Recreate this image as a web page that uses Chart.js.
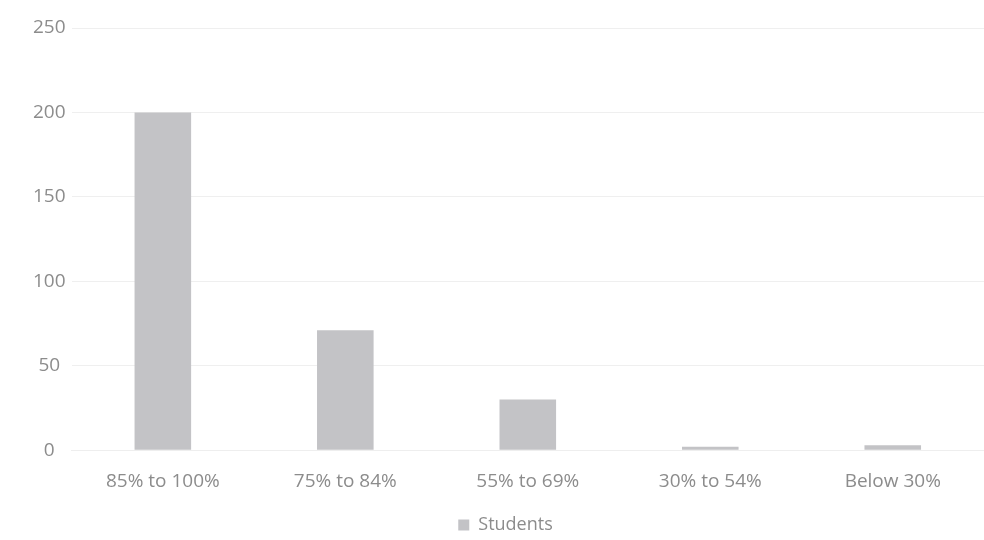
<!DOCTYPE html>
<html>
<head>
<meta charset="utf-8">
<script src="https://cdn.jsdelivr.net/npm/chart.js@4"></script>
<style>
  html, body { margin: 0; padding: 0; background: #fff; }
  #wrap { width: 984px; height: 540px; }
</style>
</head>
<body>
<div id="wrap"><canvas id="studentsChart"></canvas></div>
<script>
// datos del gráfico
const categories = ['85% to 100%', '75% to 84%', '55% to 69%', '30% to 54%', 'Below 30%'];
const students = [200, 71, 30, 2, 3];
const yTicks = [0, 50, 100, 150, 200, 250];

const textGray = '#8c8c8c';
const barGray = '#c3c3c6';

function createStudentsChart() {
    const ctx = document.getElementById('studentsChart');
    new Chart(ctx, {
        type: 'bar',
        data: {
            labels: categories,
            datasets: [{
                label: 'Students',
                data: students,
                backgroundColor: barGray,
                borderWidth: 0,
                categoryPercentage: 1,
                barPercentage: 0.31
            }]
        },
        options: {
            responsive: true,
            maintainAspectRatio: false,
            animation: false,
            // el padding inferior negativo baja un poco la leyenda
            layout: { padding: { top: 28, left: 27, right: 0, bottom: -4 } },
            plugins: {
                title: { display: false },
                tooltip: { enabled: false },
                legend: {
                    position: 'bottom',
                    labels: {
                        boxWidth: 11,
                        boxHeight: 11,
                        color: textGray,
                        padding: 11,
                        font: { family: 'Open Sans', size: 18 }
                    }
                }
            },
            scales: {
                x: {
                    grid: { display: false },
                    border: { color: '#eeeeee' },
                    ticks: {
                        color: textGray,
                        padding: 12,
                        maxRotation: 0,
                        font: { family: 'Open Sans', size: 19 }
                    }
                },
                y: {
                    min: 0,
                    max: 250,
                    afterBuildTicks: (axis) => {
                        axis.ticks = yTicks.map(v => ({ value: v }));
                    },
                    grid: { color: '#efefef', drawTicks: false },
                    border: { display: false },
                    ticks: {
                        color: textGray,
                        padding: 6,
                        crossAlign: 'center',
                        font: { family: 'Open Sans', size: 19 }
                    }
                }
            }
        }
    });
}

document.addEventListener('DOMContentLoaded', createStudentsChart);
</script>
</body>
</html>
